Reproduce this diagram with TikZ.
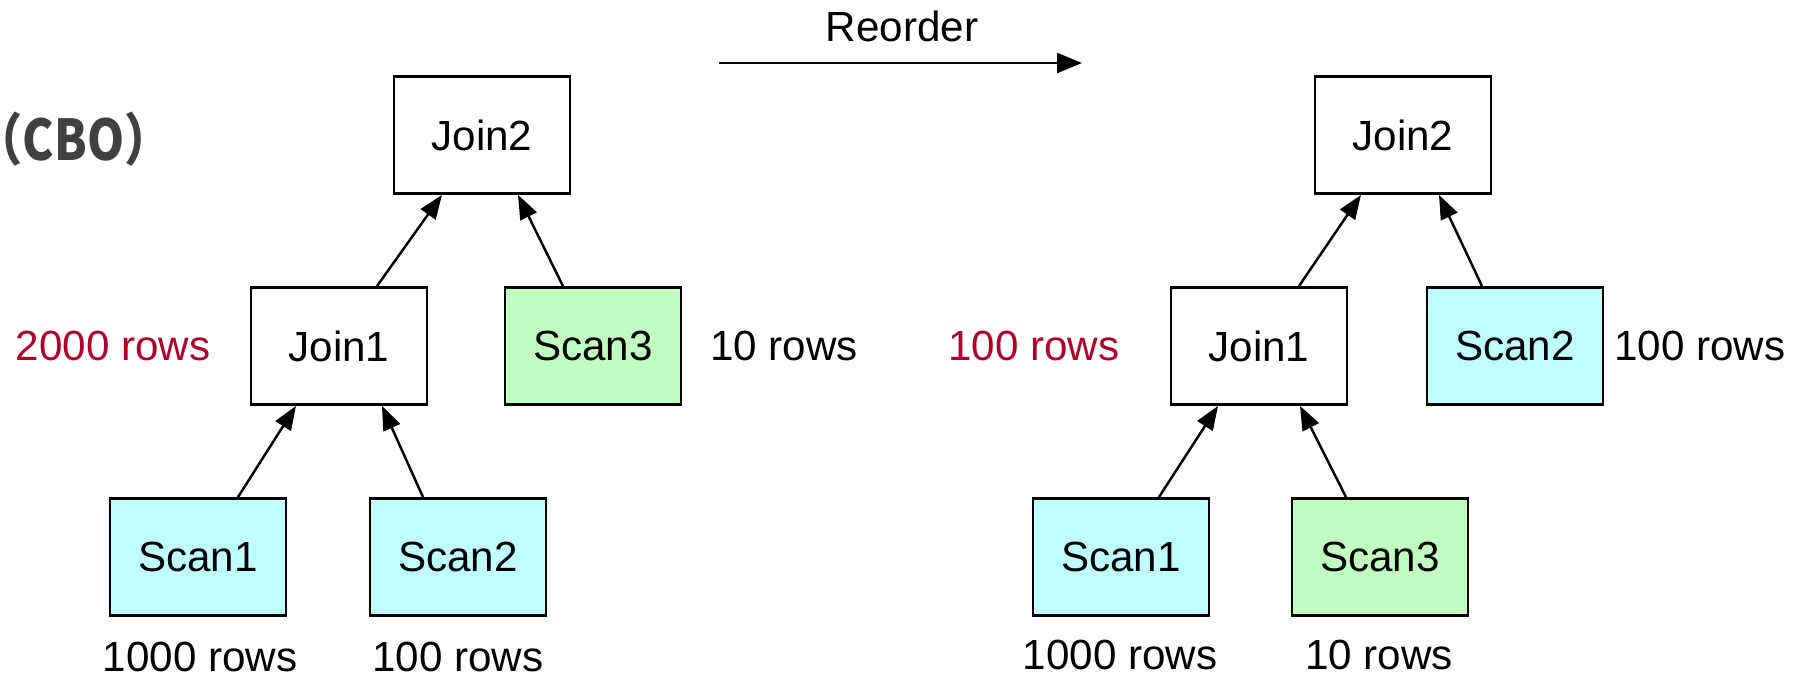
\documentclass[tikz,border=0pt]{standalone}
\usepackage{fontspec}
\setmainfont{Liberation Sans}
\newfontfamily\cjkfont{Noto Sans CJK SC}
\usetikzlibrary{arrows.meta}

\definecolor{scancyan}{HTML}{C0FFFF}
\definecolor{scangreen}{HTML}{C0FFC0}
\definecolor{rowsred}{HTML}{B0002A}
\definecolor{cbogray}{HTML}{404040}

\begin{document}
\begin{tikzpicture}[
    opbox/.style={draw, line width=0.8pt, minimum width=1.76cm, minimum height=1.17cm, inner sep=0pt, font=\fontsize{12}{14}\selectfont},
    flow/.style={line width=0.7pt, -{Triangle[length=0.24cm,width=0.18cm]}},
    rowtext/.style={font=\fontsize{12}{14}\selectfont}
]
    \newcommand{\rowtop}{5.43}
    \newcommand{\rowmid}{3.32}
    \newcommand{\rowbot}{1.21}

    \useasboundingbox (0,0) rectangle (18.2,6.78);

    \node[anchor=west, inner sep=0pt, text=cbogray, font=\cjkfont\bfseries\fontsize{16}{18}\selectfont] (cbo) at (-0.25,5.39) {\scalebox{0.84}[1]{（CBO）}};

    % before reorder
    \node[opbox] (ljoin2) at (4.82,\rowtop) {Join2};
    \node[opbox] (ljoin1) at (3.39,\rowmid) {Join1};
    \node[opbox, fill=scangreen] (lscan3) at (5.93,\rowmid) {Scan3};
    \node[opbox, fill=scancyan] (lscan1) at (1.98,\rowbot) {Scan1};
    \node[opbox, fill=scancyan] (lscan2) at (4.58,\rowbot) {Scan2};

    \draw[flow] ([xshift=0.38cm]ljoin1.north) -- ([xshift=-0.40cm]ljoin2.south);
    \draw[flow] ([xshift=-0.30cm]lscan3.north) -- ([xshift=0.36cm]ljoin2.south);
    \draw[flow] ([xshift=0.40cm]lscan1.north) -- ([xshift=-0.43cm]ljoin1.south);
    \draw[flow] ([xshift=-0.35cm]lscan2.north) -- ([xshift=0.43cm]ljoin1.south);

    \node[rowtext, text=rowsred] (lrows1) at (1.13,\rowmid) {2000 rows};
    \node[rowtext] (lrows3) at (7.84,\rowmid) {10 rows};
    \node[rowtext] (lrowss1) at (2.00,0.21) {1000 rows};
    \node[rowtext] (lrowss2) at (4.58,0.21) {100 rows};

    % reorder arrow
    \node[rowtext] (reorder) at (9.02,6.52) {Reorder};
    \coordinate (rfrom) at (7.19,6.15);
    \coordinate (rto) at (10.82,6.15);
    \draw[line width=0.7pt, -{Triangle[length=0.25cm,width=0.2cm]}] (rfrom) -- (rto);

    % after reorder
    \node[opbox] (rjoin2) at (14.03,\rowtop) {Join2};
    \node[opbox] (rjoin1) at (12.59,\rowmid) {Join1};
    \node[opbox, fill=scancyan] (rscan2) at (15.15,\rowmid) {Scan2};
    \node[opbox, fill=scancyan] (rscan1) at (11.21,\rowbot) {Scan1};
    \node[opbox, fill=scangreen] (rscan3) at (13.80,\rowbot) {Scan3};

    \draw[flow] ([xshift=0.40cm]rjoin1.north) -- ([xshift=-0.42cm]rjoin2.south);
    \draw[flow] ([xshift=-0.33cm]rscan2.north) -- ([xshift=0.36cm]rjoin2.south);
    \draw[flow] ([xshift=0.38cm]rscan1.north) -- ([xshift=-0.41cm]rjoin1.south);
    \draw[flow] ([xshift=-0.34cm]rscan3.north) -- ([xshift=0.41cm]rjoin1.south);

    \node[rowtext, text=rowsred] (rrows1) at (10.34,\rowmid) {100 rows};
    \node[rowtext] (rrows2) at (17.00,\rowmid) {100 rows};
    \node[rowtext] (rrowss1) at (11.20,0.23) {1000 rows};
    \node[rowtext] (rrowss3) at (13.79,0.23) {10 rows};

\end{tikzpicture}
\end{document}
